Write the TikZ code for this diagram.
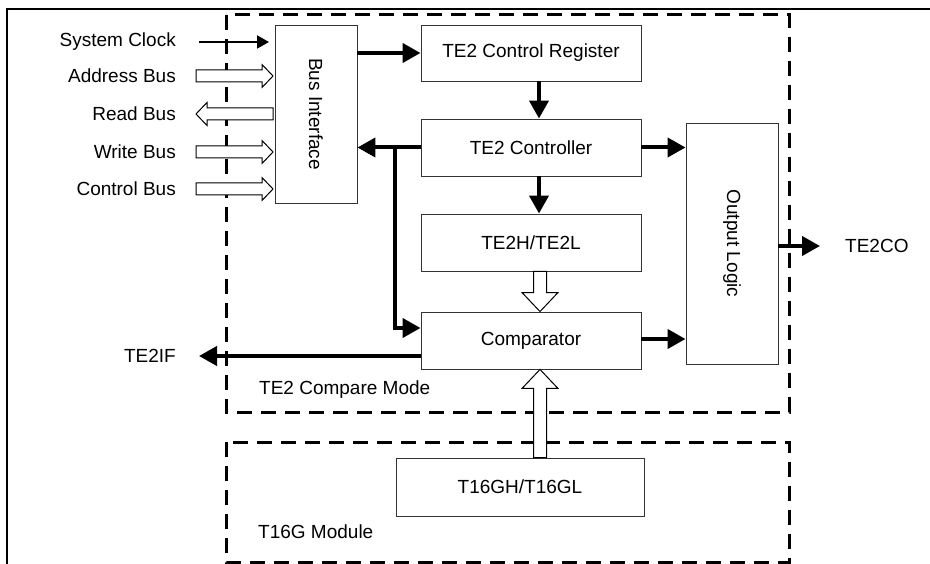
\documentclass[tikz,border=0pt]{standalone}
\usepackage{fontspec}
\usepackage{graphicx}
\setmainfont{Liberation Sans}
\usetikzlibrary{arrows.meta,calc}
\tikzset{
  txt/.style={font=\fontsize{19}{23}\selectfont, inner sep=0pt},
  box/.style={draw=black!80, line width=0.9pt, inner sep=0pt, txt},
  thickarrow/.style={line width=4pt, -{Triangle[length=18pt,width=19pt]}},
  thinarrow/.style={line width=2pt, -{Triangle[length=12pt,width=13pt]}},
  dashbox/.style={line width=3pt, dash pattern=on 15pt off 9pt},
  hollow/.style n args={3}{draw=black, line width=1pt, fill=white, to path={
    let \p1=($(\tikztotarget)!#3!(\tikztostart)$) in
    ($(\tikztostart)!#1!90:(\tikztotarget)$)
    -- ($(\p1)!#1!-90:(\tikztostart)$)
    -- ($(\p1)!#2!-90:(\tikztostart)$)
    -- (\tikztotarget)
    -- ($(\p1)!#2!90:(\tikztostart)$)
    -- ($(\p1)!#1!90:(\tikztostart)$)
    -- ($(\tikztostart)!#1!-90:(\tikztotarget)$)
    -- cycle}},
  busarrow/.style={hollow={6pt}{11.5pt}{11pt}},
  bigarrow/.style={hollow={6.5pt}{18pt}{19pt}},
}
\begin{document}
\begin{tikzpicture}[x=1pt,y=-1pt]
\useasboundingbox (0,0) rectangle (930,564);
% outer frame
\draw[line width=2pt] (7,564) -- (7,9) -- (930,9);
% dashed module boxes
\draw[dashbox] (226,15) rectangle (789,412);
\draw[dashbox] (226,442) rectangle (789,562);
\node[txt, anchor=west] (cmpmode) at (259,390) {TE2 Compare Mode};
\node[txt, anchor=west] (t16mod) at (258,532) {T16G Module};
% blocks
\node[box, minimum width=82pt, minimum height=178pt] (bus) at (316,114) {\rotatebox{-90}{Bus Interface}};
\node[box, minimum width=220pt, minimum height=56pt] (reg) at (531,53) {TE2 Control Register};
\node[box, minimum width=220pt, minimum height=57pt] (ctl) at (531,147.5) {TE2 Controller};
\node[box, minimum width=220pt, minimum height=57pt] (cnt) at (531,242.5) {TE2H/TE2L};
\node[box, minimum width=220pt, minimum height=57pt] (cmp) at (531,340.5) {Comparator};
\node[box, minimum width=92pt, minimum height=241pt] (out) at (732,243.5) {\rotatebox{-90}{Output Logic}};
\node[box, minimum width=248pt, minimum height=58pt] (t16) at (520,487) {T16GH/T16GL};
% left labels
\node[txt, anchor=east] (clk) at (176,42) {System Clock};
\node[txt, anchor=east] (addr) at (176,76) {Address Bus};
\node[txt, anchor=east] (rd) at (176,114) {Read Bus};
\node[txt, anchor=east] (wr) at (176,152) {Write Bus};
\node[txt, anchor=east] (cb) at (176,189) {Control Bus};
\node[txt, anchor=east] (ifl) at (176,356) {TE2IF};
\node[txt, anchor=west] (col) at (845,246) {TE2CO};
% coordinates
\coordinate (clkS) at (199,42);
\coordinate (clkE) at (269,42);
\coordinate (aS) at (196,76);  \coordinate (aE) at (273,76);
\coordinate (rS) at (273,114); \coordinate (rE) at (196,114);
\coordinate (wS) at (196,152); \coordinate (wE) at (273,152);
\coordinate (cS) at (196,189); \coordinate (cE) at (273,189);
\coordinate (j) at (395,147);
\coordinate (ifE) at (199,356);
\coordinate (coE) at (820,246);
\coordinate (h1S) at ([xshift=9pt]cnt.south);
\coordinate (h1E) at ([xshift=9pt]cmp.north);
\coordinate (h2S) at ([xshift=20pt]t16.north);
\coordinate (h2E) at ([xshift=9pt]cmp.south);
% bus input arrows
\draw[thinarrow] (clkS) -- (clkE);
\draw[busarrow] (aS) to (aE);
\draw[busarrow] (rS) to (rE);
\draw[busarrow] (wS) to (wE);
\draw[busarrow] (cS) to (cE);
% thick arrows
\draw[thickarrow] (bus.east |- reg.west) -- (reg.west);
\draw[thickarrow] ([xshift=8pt]reg.south) -- ([xshift=8pt]ctl.north);
\draw[thickarrow] ([xshift=8pt]ctl.south) -- ([xshift=8pt]cnt.north);
\draw[thickarrow] (ctl.west) -- (ctl.west -| bus.east);
\draw[thickarrow] (j) |- ([yshift=12.5pt]cmp.west);
\draw[thickarrow] ([yshift=-15.5pt]cmp.west) -- (ifE);
\draw[thickarrow] (ctl.east) -- (ctl.east -| out.west);
\draw[thickarrow] ([yshift=1.5pt]cmp.east) -- ([yshift=1.5pt]cmp.east -| out.west);
\draw[thickarrow] (out.east |- coE) -- (coE);
% hollow vertical arrows
\draw[bigarrow] (h1S) to (h1E);
\draw[bigarrow] (h2S) to (h2E);
\end{tikzpicture}
\end{document}
